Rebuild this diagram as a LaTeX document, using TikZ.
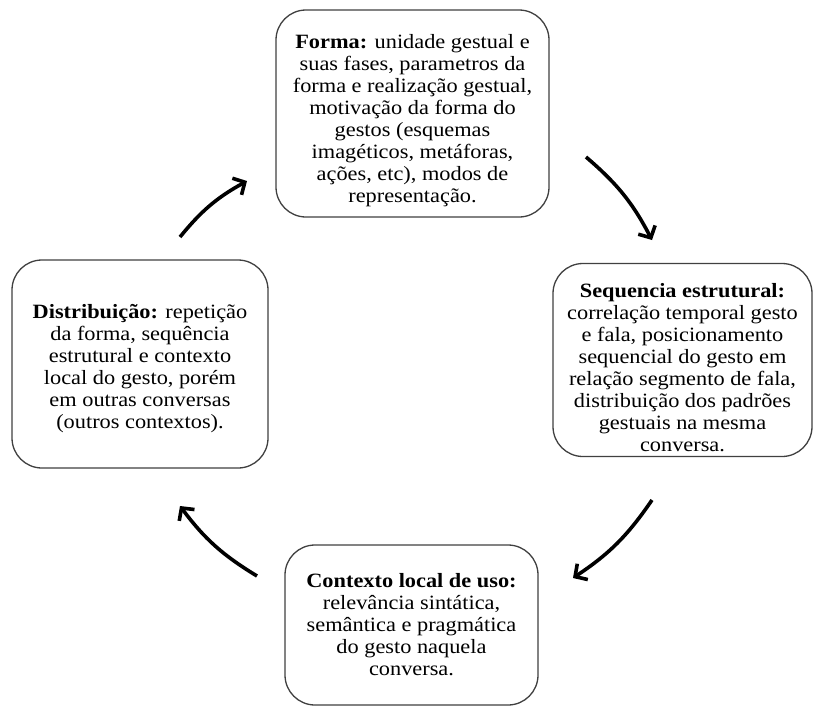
\documentclass[tikz,border=0pt]{standalone}
\usepackage{fontspec}
\setmainfont{Liberation Serif}[FakeStretch=1.1]
\usetikzlibrary{arrows.meta}
\begin{document}
\begin{tikzpicture}[x=1pt,y=-1pt,
  boxstyle/.style={draw=black!75, line width=1.3pt, rounded corners=30pt, align=center,
    font=\fontsize{20.3}{22}\selectfont, inner sep=0pt, fill=white},
  cyclearrow/.style={line width=3.6pt, draw=black, bend left=11,
    -{Straight Barb[length=9pt,width=19pt,line width=3.6pt]}}]
\useasboundingbox (0,0) rectangle (814,707);
\node[boxstyle, minimum width=273pt, minimum height=207pt] (T) at (412.5,113.5)
  {\rule{0pt}{28pt}\textbf{Forma:} unidade gestual e\\suas fases, parametros da\\forma e realização gestual,\\motivação da forma do\\gestos (esquemas\\imagéticos, metáforas,\\ações, etc), modos de\\representação.};
\node[boxstyle, minimum width=259pt, minimum height=193pt] (R) at (682.5,360)
  {\rule{0pt}{30pt}\textbf{Sequencia estrutural:}\\correlação temporal gesto\\e fala, posicionamento\\sequencial do gesto em\\relação segmento de fala,\\distribuição dos padrões\\gestuais na mesma\\conversa.};
\node[boxstyle, minimum width=256pt, minimum height=208pt] (L) at (140,364)
  {\rule{0pt}{24pt}\textbf{Distribuição:} repetição\\da forma, sequência\\estrutural e contexto\\local do gesto, porém\\em outras conversas\\(outros contextos).};
\node[boxstyle, minimum width=253pt, minimum height=160pt] (B) at (411.5,625)
  {\textbf{Contexto local de uso:}\\relevância sintática,\\semântica e pragmática\\do gesto naquela\\conversa.};
\coordinate (a1s) at (180,237);
\coordinate (a1e) at (247,181);
\coordinate (a2s) at (586,157);
\coordinate (a2e) at (652,240);
\coordinate (a3s) at (652,500);
\coordinate (a3e) at (573,578);
\coordinate (a4s) at (257,576);
\coordinate (a4e) at (180,506);
\draw[cyclearrow] (a1s) to (a1e);
\draw[cyclearrow] (a2s) to (a2e);
\draw[cyclearrow] (a3s) to (a3e);
\draw[cyclearrow] (a4s) to (a4e);
\end{tikzpicture}
\end{document}
